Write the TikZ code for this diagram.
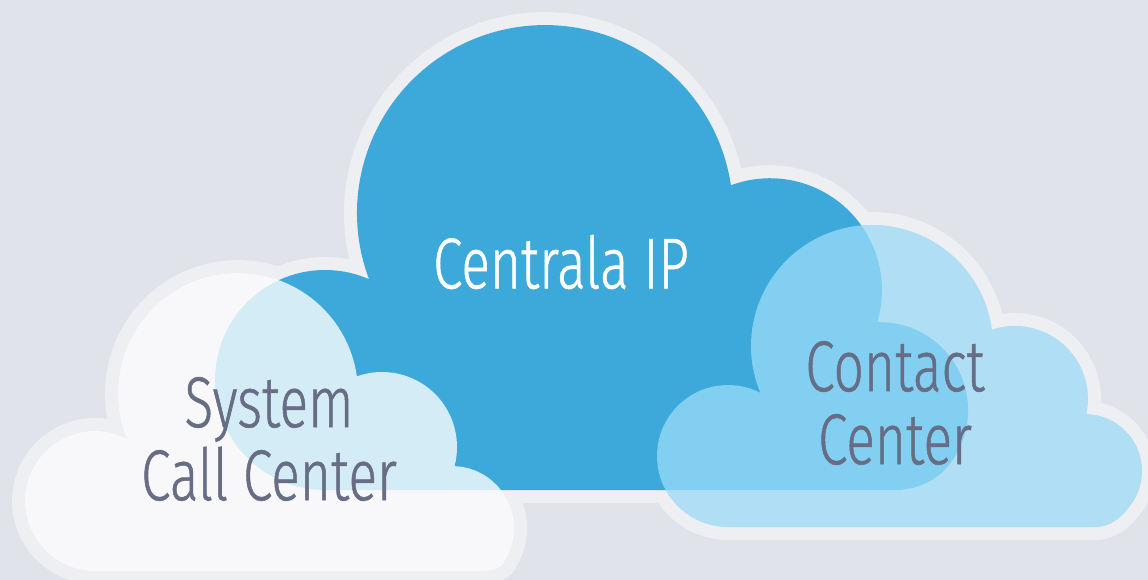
\documentclass[tikz,border=0pt]{standalone}
\usepackage{fontspec}
\IfFontExistsTF{Fira Sans Light}
  {\setmainfont{Fira Sans Light}[FakeStretch=0.74,FakeBold=0.7]}
  {\setmainfont{Fira Sans}[FakeStretch=0.72]}
\definecolor{bg}{HTML}{E0E3EA}
\definecolor{rim}{HTML}{EEEFF3}
\definecolor{ipblue}{HTML}{3DA9DA}
\definecolor{skyfill}{RGB}{158,222,250}
\definecolor{labelgray}{HTML}{676D85}
\begin{document}
\begin{tikzpicture}[x=1pt,y=-1pt,
  rimline/.style={draw=rim,line width=26pt,line join=round},
  lbl/.style={font=\fontsize{72}{73}\selectfont,align=center,inner sep=0pt}]
\useasboundingbox (0,0) rectangle (1148,580);
\clip (0,0) rectangle (1148,580);
\fill[bg] (0,0) rectangle (1148,580);
% outlines
\path[save path=\pblue] (325,490)
  arc[start angle=90,end angle=293.6,radius=110]
  arc[start angle=159.4,end angle=351.5,radius=188]
  arc[start angle=249.6,end angle=376.6,radius=112]
  arc[start angle=268.2,end angle=400,radius=88]
  .. controls (934.5,481.9) and (915,490) .. (895,490) -- cycle;
\path[save path=\pwhite] (95,571)
  arc[start angle=90,end angle=297.3,radius=70]
  arc[start angle=157.6,end angle=352.0,radius=120]
  arc[start angle=250.4,end angle=374.8,radius=75]
  arc[start angle=272.3,end angle=390,radius=62]
  .. controls (501,571) and (490,571) .. (475,571) -- cycle;
\path[save path=\psky] (728,527)
  arc[start angle=90,end angle=297.2,radius=71]
  arc[start angle=157.2,end angle=352.3,radius=121]
  arc[start angle=251.6,end angle=371.9,radius=73]
  arc[start angle=271.4,end angle=400,radius=57]
  .. controls (1121,517.8) and (1110,527) .. (1095,527) -- cycle;
% rims
\path[rimline,use path=\pblue];
\path[rimline,use path=\pwhite];
\path[rimline,use path=\psky];
% hide inner rim halves under the translucent clouds
\path[fill=bg,use path=\pwhite];
\path[fill=bg,use path=\psky];
% fills
\path[fill=ipblue,use path=\pblue];
\path[fill=white,fill opacity=0.78,use path=\pwhite];
\path[fill=skyfill,fill opacity=0.72,use path=\psky];
% labels
\node[lbl,text=white] (ip) at (561,262) {Centrala IP};
\node[lbl,text=labelgray] (scc) at (269,439) {System\\Call Center};
\node[lbl,text=labelgray] (cc) at (895,403) {Contact\\Center};
\end{tikzpicture}
\end{document}
